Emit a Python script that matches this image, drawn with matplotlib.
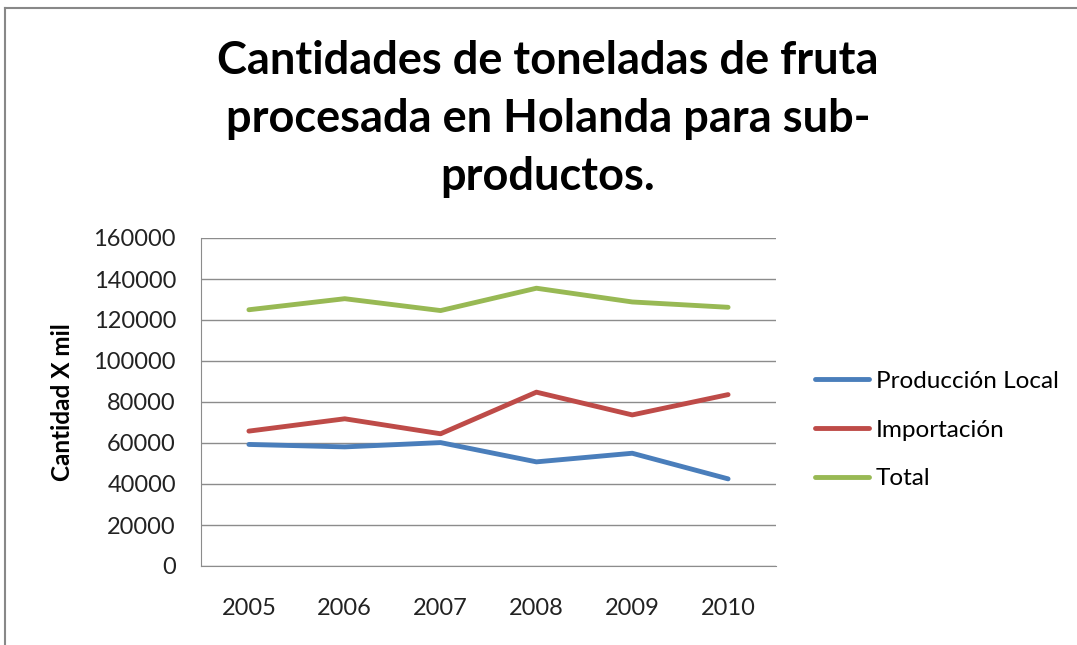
import matplotlib.pyplot as plt
from matplotlib.lines import Line2D

# Data
years = ['2005', '2006', '2007', '2008', '2009', '2010']
produccion_local = [59300, 58100, 60200, 50800, 55000, 42500]
importacion = [65800, 71800, 64500, 84800, 73700, 83600]
total = [125000, 130400, 124600, 135500, 128800, 126200]

series_names = ['Producción Local', 'Importación', 'Total']
colors = ['#4A7EBB', '#BE4B48', '#98B954']

plt.rcParams['font.family'] = ['Lato', 'DejaVu Sans']

fig = plt.figure(figsize=(10.77, 6.45), dpi=100)

# Outer chart frame (left and top edges visible)
fig.add_artist(Line2D([5/1077, 5/1077], [0, 1 - 8/645], transform=fig.transFigure,
                      color='#888888', lw=1.5))
fig.add_artist(Line2D([5/1077, 1], [1 - 8/645, 1 - 8/645], transform=fig.transFigure,
                      color='#888888', lw=1.5))

ax = fig.add_axes([201/1077, 1 - 566/645, 575/1077, 328/645])

x = range(len(years))
for vals, name, c in zip([produccion_local, importacion, total], series_names, colors):
    ax.plot(x, vals, color=c, lw=3.5, label=name, solid_capstyle='round')

ax.set_xlim(-0.5, len(years) - 0.5)
ax.set_ylim(0, 160000)
ax.set_yticks(range(0, 160001, 20000))
ax.set_xticks(list(x))
ax.set_xticklabels(years)
ax.tick_params(length=0, labelsize=17, colors='#222222')
ax.tick_params(axis='y', pad=18)
ax.tick_params(axis='x', pad=23)
ax.grid(axis='y', color='#8c8c8c', lw=1)
ax.set_axisbelow(True)
for s in ['top', 'right']:
    ax.spines[s].set_visible(False)
ax.spines['left'].set_color('#8c8c8c')
ax.spines['bottom'].set_color('#8c8c8c')

fig.text(62/1077, 1 - 402/645, 'Cantidad X mil', rotation=90, fontsize=17.5,
         fontweight='bold', ha='center', va='center')

fig.text(548/1077, 1 - 119/645,
         'Cantidades de toneladas de fruta\nprocesada en Holanda para sub-\nproductos.',
         fontsize=32.5, fontweight='bold', ha='center', va='center', linespacing=1.47)

fig.legend(loc='center left', bbox_to_anchor=(0.748, 1 - 430/645), frameon=False,
           borderaxespad=0, fontsize=17.5, handlelength=2.2, handletextpad=0.3,
           labelspacing=1.15)

plt.savefig('out.png', dpi=100)
